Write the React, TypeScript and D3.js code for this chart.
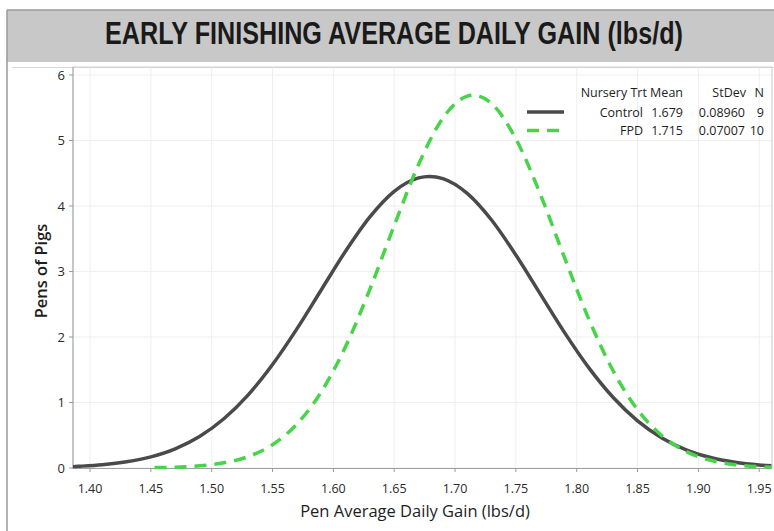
import React, { useLayoutEffect, useRef, useState } from "react";
import * as d3 from "d3";

const W = 774;
const H = 531;

const titleText = "EARLY FINISHING AVERAGE DAILY GAIN (lbs/d)";
const xTitle = "Pen Average Daily Gain (lbs/d)";
const yTitle = "Pens of Pigs";

const xTicks = [1.4, 1.45, 1.5, 1.55, 1.6, 1.65, 1.7, 1.75, 1.8, 1.85, 1.9, 1.95];
const yTicks = [0, 1, 2, 3, 4, 5, 6];

const controlX = [1.386, 1.39, 1.41, 1.43, 1.45, 1.47, 1.49, 1.51, 1.53, 1.55, 1.57, 1.59, 1.61, 1.63, 1.65, 1.67, 1.679, 1.69, 1.71, 1.73, 1.75, 1.77, 1.79, 1.81, 1.83, 1.85, 1.87, 1.89, 1.91, 1.93, 1.95, 1.96];
const controlY = [0.021, 0.025, 0.049, 0.094, 0.17, 0.293, 0.481, 0.752, 1.117, 1.58, 2.124, 2.718, 3.31, 3.834, 4.225, 4.43, 4.452, 4.419, 4.193, 3.786, 3.252, 2.658, 2.067, 1.529, 1.076, 0.72, 0.459, 0.278, 0.16, 0.088, 0.046, 0.033];

const fpdX = [1.453, 1.47, 1.49, 1.51, 1.53, 1.55, 1.57, 1.59, 1.61, 1.63, 1.65, 1.67, 1.69, 1.71, 1.715, 1.73, 1.75, 1.77, 1.79, 1.81, 1.83, 1.85, 1.87, 1.89, 1.91, 1.93, 1.95, 1.96];
const fpdY = [0.006, 0.013, 0.033, 0.079, 0.174, 0.356, 0.669, 1.16, 1.853, 2.728, 3.703, 4.633, 5.342, 5.678, 5.693, 5.564, 5.025, 4.184, 3.21, 2.271, 1.481, 0.89, 0.493, 0.252, 0.118, 0.051, 0.021, 0.013];

const legendHeader = ["Nursery Trt Mean", "StDev", "N"];
const legendNames = ["Control", "FPD"];
const legendMeans = ["1.679", "1.715"];
const legendSds = ["0.08960", "0.07007"];
const legendNs = ["9", "10"];

const sansFont = "'Open Sans', 'Noto Sans', sans-serif";

export default function App() {
  const left = 73, right = 772, top = 67, bottom = 468;
  const x = d3.scaleLinear().domain([1.386, 1.9605]).range([left, right]);
  const y = d3.scaleLinear().domain([0, 6]).range([bottom, 75]);

  const titleRef = useRef<SVGTextElement>(null);
  const [titleScale, setTitleScale] = useState(0.7);
  useLayoutEffect(() => {
    if (titleRef.current) {
      const w = titleRef.current.getComputedTextLength();
      if (w > 0) setTitleScale(578 / w);
    }
  }, []);

  const line = d3
    .line<[number, number]>()
    .x((d) => x(d[0]))
    .y((d) => y(d[1]))
    .curve(d3.curveMonotoneX);

  const controlPts: [number, number][] = controlX.map((v, i) => [v, controlY[i]]);
  const fpdPts: [number, number][] = fpdX.map((v, i) => [v, fpdY[i]]);

  const controlColor = "#4a4a4a";
  const fpdColor = "#48d448";

  const legendRows = [
    { color: controlColor, dash: "none", name: legendNames[0], mean: legendMeans[0], sd: legendSds[0], n: legendNs[0] },
    { color: fpdColor, dash: "12 8", name: legendNames[1], mean: legendMeans[1], sd: legendSds[1], n: legendNs[1] },
  ];

  return (
    <svg width={W} height={H} style={{ position: "absolute", left: 0, top: 0, background: "#fff" }}>
      <rect x={0} y={0} width={W} height={H} fill="#fff" />
      {/* title band */}
      <rect x={7} y={10} width={W - 7} height={52} fill="#c8c8c8" />
      <line x1={7} y1={10} x2={W} y2={10} stroke="#9a9a9a" strokeWidth={1.5} />
      <line x1={7} y1={10} x2={7} y2={H} stroke="#9a9a9a" strokeWidth={1.5} />
      <g transform={`translate(394, 44) scale(${titleScale}, 1)`}>
        <text
          ref={titleRef}
          x={0}
          y={0}
          textAnchor="middle"
          fontFamily="'Liberation Sans Narrow', 'Arial Narrow', 'Liberation Sans', sans-serif"
          fontWeight="bold"
          fontSize={31}
          fill="#1a1a1a"
        >
          {titleText}
        </text>
      </g>

      {/* outer graph frame top */}
      <line x1={12} y1={67.5} x2={W} y2={67.5} stroke="#d8d8d8" strokeWidth={1} />

      {/* grid */}
      {xTicks.map((t) => (
        <line key={"gx" + t} x1={x(t)} x2={x(t)} y1={top} y2={bottom} stroke="#efefef" strokeWidth={1} />
      ))}
      {yTicks.map((t) => (
        <line key={"gy" + t} x1={left} x2={right} y1={y(t)} y2={y(t)} stroke="#efefef" strokeWidth={1} />
      ))}

      {/* frame */}
      <line x1={left} y1={top} x2={right} y2={top} stroke="#d0d0d0" />
      <line x1={right} y1={top} x2={right} y2={bottom} stroke="#c8c8c8" />
      <line x1={left} y1={top} x2={left} y2={bottom + 1} stroke="#a0a0a0" strokeWidth={1.2} />
      <line x1={left} y1={bottom + 0.5} x2={right} y2={bottom + 0.5} stroke="#a0a0a0" strokeWidth={1.2} />

      {/* ticks */}
      {xTicks.map((t) => (
        <g key={"tx" + t}>
          <line x1={x(t)} x2={x(t)} y1={bottom} y2={bottom + 4} stroke="#999" />
          <text x={x(t)} y={493} textAnchor="middle" fontFamily={sansFont} fontSize={12.5} fill="#2a2a2a">
            {d3.format(".2f")(t)}
          </text>
        </g>
      ))}
      {yTicks.map((t) => (
        <g key={"ty" + t}>
          <line x1={left - 4} x2={left} y1={y(t)} y2={y(t)} stroke="#999" />
          <text x={65} y={y(t) + 4.5} textAnchor="end" fontFamily={sansFont} fontSize={13} fill="#2a2a2a">
            {t}
          </text>
        </g>
      ))}

      {/* axis titles */}
      <text x={415} y={517} textAnchor="middle" fontFamily={sansFont} fontSize={16.5} fill="#1e1e1e">
        {xTitle}
      </text>
      <text
        transform={`translate(47, 271) rotate(-90)`}
        textAnchor="middle"
        fontFamily={sansFont}
        fontSize={16.5}
        fontWeight={600}
        fill="#1e1e1e"
      >
        {yTitle}
      </text>

      {/* curves */}
      <path d={line(controlPts) || ""} fill="none" stroke={controlColor} strokeWidth={3.5} strokeLinejoin="round" />
      <path
        d={line(fpdPts) || ""}
        fill="none"
        stroke={fpdColor}
        strokeWidth={3.5}
        strokeDasharray="12 8"
      />

      {/* legend */}
      <g fontFamily={sansFont} fontSize={12.5} fill="#1e1e1e">
        <text x={683} y={97} textAnchor="end">{legendHeader[0]}</text>
        <text x={746} y={97} textAnchor="end">{legendHeader[1]}</text>
        <text x={764} y={97} textAnchor="end">{legendHeader[2]}</text>
        {legendRows.map((r, i) => {
          const ly = 112 + i * 18.5;
          return (
            <g key={r.name}>
              <line x1={527} x2={564} y1={ly} y2={ly} stroke={r.color} strokeWidth={3.5} strokeDasharray={r.dash} />
              <text x={643} y={ly + 4.5} textAnchor="end">{r.name}</text>
              <text x={683} y={ly + 4.5} textAnchor="end">{r.mean}</text>
              <text x={745} y={ly + 4.5} textAnchor="end">{r.sd}</text>
              <text x={764} y={ly + 4.5} textAnchor="end">{r.n}</text>
            </g>
          );
        })}
      </g>
    </svg>
  );
}
